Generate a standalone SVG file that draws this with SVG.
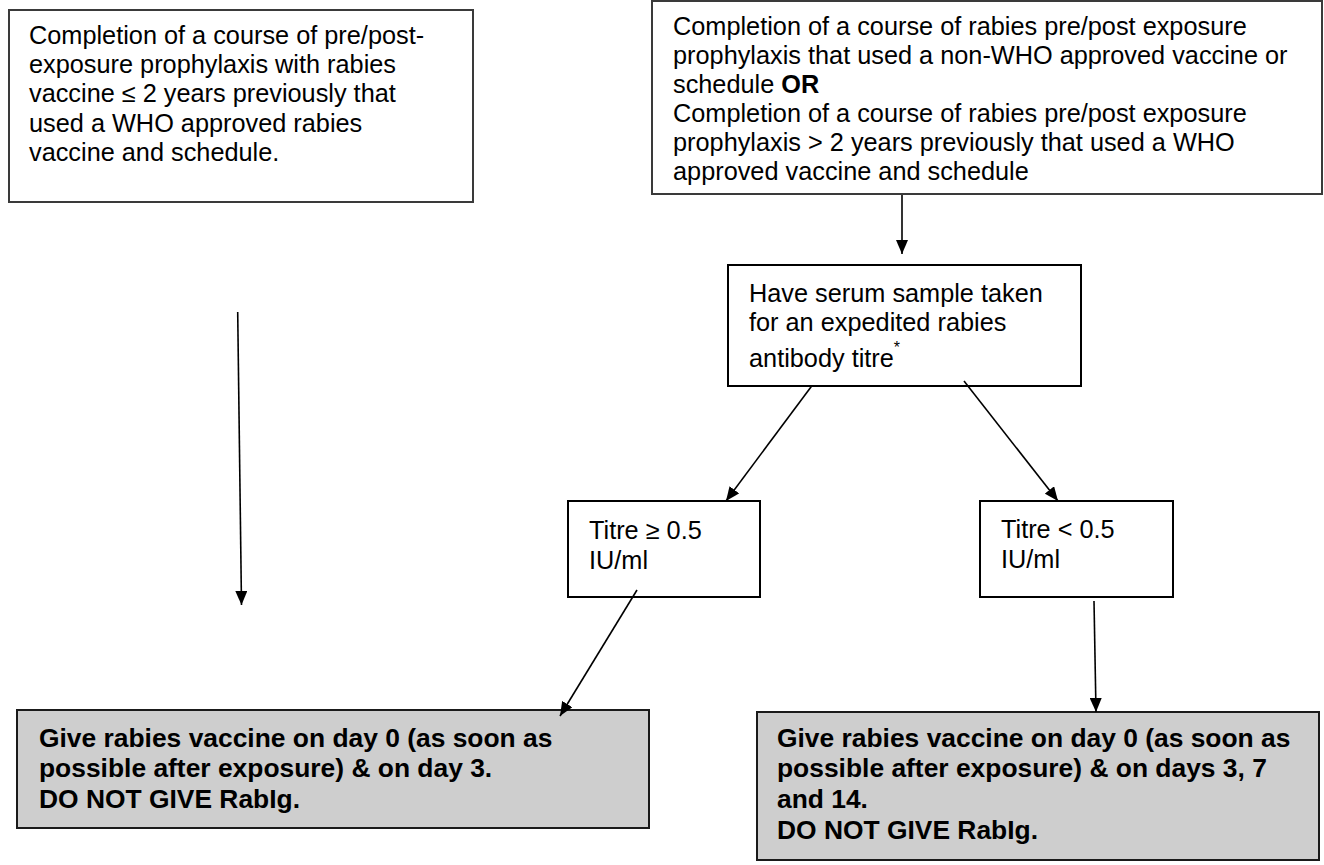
<svg xmlns="http://www.w3.org/2000/svg" width="1324" height="865" viewBox="0 0 1324 865">
<defs>
<style>
.t{font-family:"Liberation Sans",Arial,sans-serif;font-size:25.3px;fill:#000}
.b{font-family:"Liberation Sans",Arial,sans-serif;font-size:26.4px;font-weight:bold;fill:#000}
.box{fill:#fff;stroke:#000;stroke-width:2}
.gbox{fill:#404040;stroke:#404040;stroke-width:2}
.grey{fill:#cecece;stroke:#1a1a1a;stroke-width:2}
.con line{stroke:#000;stroke-width:1.6;marker-end:url(#ah)}
</style>
<marker id="ah" viewBox="0 0 14 12" refX="14" refY="6" markerWidth="14" markerHeight="12" markerUnits="userSpaceOnUse" orient="auto">
<path d="M0,0 L14,6 L0,12 z" fill="#000"/>
</marker>
</defs>
<rect width="1324" height="865" fill="#fff"/>

<g id="n-left">
<rect x="9" y="10" width="464" height="192" fill="#fff" stroke="#3a3a3a" stroke-width="2"/>
<text class="t" x="29" y="44">Completion of a course of pre/post-</text>
<text class="t" x="29" y="73">exposure prophylaxis with rabies</text>
<text class="t" x="29" y="102">vaccine ≤ 2 years previously that</text>
<text class="t" x="29" y="132">used a WHO approved rabies</text>
<text class="t" x="29" y="161">vaccine and schedule.</text>
</g>

<g id="n-right">
<rect x="652" y="1" width="670" height="193" fill="#fff" stroke="#3a3a3a" stroke-width="2"/>
<text class="t" x="673" y="35">Completion of a course of rabies pre/post exposure</text>
<text class="t" x="673" y="64">prophylaxis that used a non-WHO approved vaccine or</text>
<text class="t" x="673" y="93">schedule <tspan font-weight="bold">OR</tspan></text>
<text class="t" x="673" y="122">Completion of a course of rabies pre/post exposure</text>
<text class="t" x="673" y="151">prophylaxis &gt; 2 years previously that used a WHO</text>
<text class="t" x="673" y="180">approved vaccine and schedule</text>
</g>

<g id="n-serum">
<rect class="box" x="728" y="265" width="353" height="121"/>
<text class="t" x="749" y="302">Have serum sample taken</text>
<text class="t" x="749" y="331">for an expedited rabies</text>
<text class="t" x="749" y="367">antibody titre<tspan dy="-14" font-size="16">*</tspan></text>
</g>

<g id="n-titre-high">
<rect class="box" x="568" y="501" width="192" height="96"/>
<text class="t" x="589" y="539">Titre ≥ 0.5</text>
<text class="t" x="589" y="569">IU/ml</text>
</g>

<g id="n-titre-low">
<rect class="box" x="980" y="501" width="193" height="96"/>
<text class="t" x="1001" y="538">Titre &lt; 0.5</text>
<text class="t" x="1001" y="568">IU/ml</text>
</g>

<g id="n-give-1">
<rect class="grey" x="17" y="710" width="632" height="118"/>
<text class="b" x="39" y="747">Give rabies vaccine on day 0 (as soon as</text>
<text class="b" x="39" y="777">possible after exposure) &amp; on day 3.</text>
<text class="b" x="39" y="808">DO NOT GIVE RabIg.</text>
</g>

<g id="n-give-2">
<rect class="grey" x="757" y="712" width="562" height="148"/>
<text class="b" x="777" y="747">Give rabies vaccine on day 0 (as soon as</text>
<text class="b" x="777" y="777">possible after exposure) &amp; on days 3, 7</text>
<text class="b" x="777" y="808">and 14.</text>
<text class="b" x="777" y="839">DO NOT GIVE RabIg.</text>
</g>

<g id="connectors" class="con">
<line x1="237.7" y1="312" x2="241.5" y2="605"/>
<line x1="902" y1="195" x2="902" y2="254"/>
<line x1="811.7" y1="386" x2="726" y2="501"/>
<line x1="964" y1="381" x2="1058" y2="501"/>
<line x1="637" y1="590" x2="560" y2="716"/>
<line x1="1094" y1="601" x2="1096" y2="712"/>
</g>
</svg>
